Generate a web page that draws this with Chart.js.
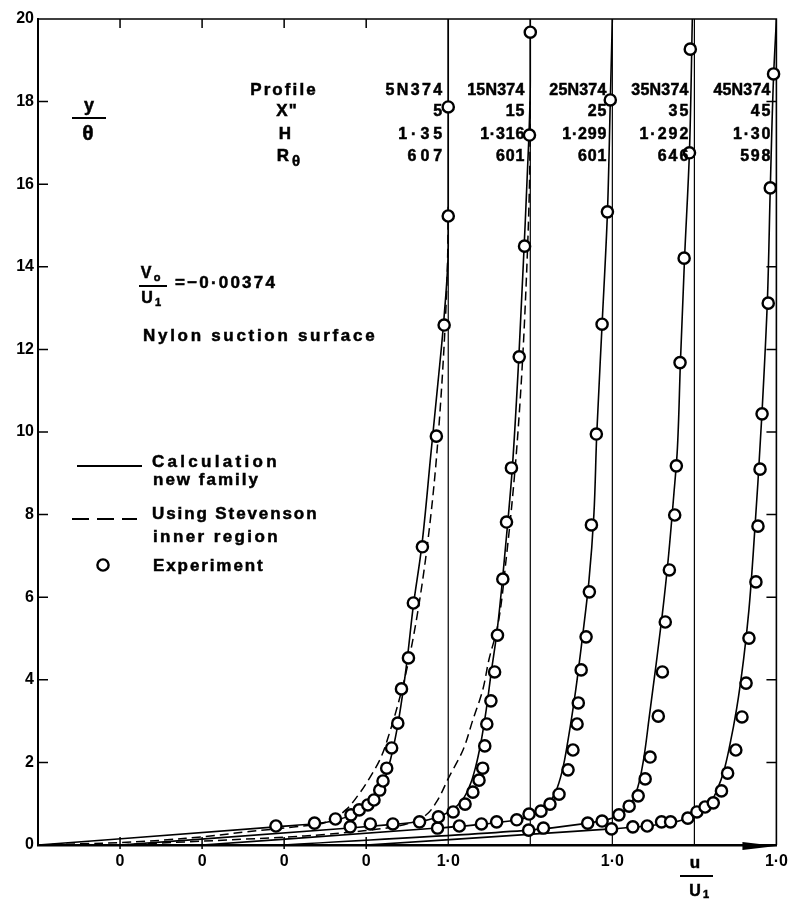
<!DOCTYPE html>
<html>
<head>
<meta charset="utf-8">
<script src="https://cdn.jsdelivr.net/npm/chart.js@4"></script>
<style>
  html, body { margin: 0; padding: 0; background: #fff; }
  canvas { display: block; }
</style>
</head>
<body>
<canvas id="profiles" width="795" height="899"></canvas>
<script>
// each profile is drawn from its own origin, staggered along u/U1
var profileOffsets = [0, 0.2, 0.4, 0.6, 0.8];
var profileNames = ["5N374", "15N374", "25N374", "35N374", "45N374"];
var xInches = ["5", "15", "25", "35", "45"];
var shapeH = ["1·35", "1·316", "1·299", "1·292", "1·30"];
var reTheta = ["607", "601", "601", "646", "598"];

var xTickValues = [0.2, 0.4, 0.6, 0.8, 1.0, 1.4, 1.8];
var xTickLabels = ["0", "0", "0", "0", "1·0", "1·0", "1·0"];
var yTickValues = [0, 2, 4, 6, 8, 10, 12, 14, 16, 18, 20];

// Experiment (circles), u/U1 and y/theta
var exp5U = [0.580,0.674,0.725,0.763,0.783,0.804,0.819,0.833,0.841,0.850,0.862,0.877,0.886,0.903,0.915,0.937,0.971,0.990,1.000,1.000];
var exp5Y = [0.46,0.53,0.63,0.73,0.85,0.97,1.09,1.33,1.55,1.86,2.35,2.95,3.78,4.53,5.86,7.22,9.90,12.59,15.23,17.87];
var exp15U = [0.561,0.610,0.665,0.730,0.776,0.812,0.841,0.860,0.875,0.884,0.889,0.894,0.904,0.913,0.920,0.933,0.942,0.954,0.973,0.986,0.998,1.000];
var exp15Y = [0.44,0.51,0.51,0.56,0.68,0.80,0.99,1.28,1.57,1.86,2.40,2.93,3.49,4.19,5.08,6.44,7.82,9.13,11.82,14.50,17.19,19.68];
var exp25U = [0.574,0.627,0.681,0.718,0.767,0.797,0.826,0.848,0.870,0.892,0.904,0.914,0.917,0.924,0.936,0.944,0.949,0.961,0.975,0.988,0.995];
var exp25Y = [0.41,0.46,0.51,0.56,0.61,0.75,0.82,0.99,1.23,1.82,2.30,2.93,3.44,4.24,5.04,6.13,7.75,9.95,12.61,15.33,18.04];
var exp35U = [0.596,0.632,0.740,0.775,0.816,0.841,0.863,0.880,0.892,0.912,0.922,0.929,0.939,0.952,0.956,0.965,0.975,0.988,0.990];
var exp35Y = [0.36,0.41,0.53,0.58,0.73,0.94,1.19,1.60,2.13,3.12,4.19,5.40,6.66,7.99,9.18,11.68,14.21,16.76,19.27];
var exp45U = [0.598,0.650,0.685,0.720,0.742,0.784,0.806,0.826,0.846,0.866,0.881,0.901,0.916,0.926,0.933,0.950,0.955,0.960,0.965,0.980,0.985,0.993];
var exp45Y = [0.39,0.44,0.46,0.56,0.56,0.65,0.80,0.92,1.02,1.31,1.74,2.30,3.10,3.92,5.01,6.37,7.72,9.10,10.44,13.12,15.91,18.67];

// Calculation, new family (solid)
var calc5U = [0,0.58,0.68,0.73,0.77,0.80,0.825,0.845,0.86,0.875,0.888,0.90,0.915,0.935,0.958,0.975,0.99,1.0,1.0];
var calc5Y = [0,0.44,0.52,0.61,0.75,0.92,1.2,1.6,2.1,2.8,3.6,4.5,5.8,7.2,9.5,11.2,12.8,14.5,20];
var calc15U = [0,0.56,0.665,0.73,0.775,0.81,0.835,0.853,0.867,0.88,0.893,0.905,0.918,0.932,0.945,0.956,0.972,0.985,0.996,1.0,1.0];
var calc15Y = [0,0.41,0.5,0.57,0.68,0.85,1.1,1.45,1.9,2.5,3.3,4.2,5.1,6.4,7.8,9.1,11.8,14.5,17,18.5,20];
var calc25U = [0,0.574,0.68,0.77,0.81,0.84,0.862,0.878,0.893,0.91,0.928,0.943,0.955,0.962,0.975,0.988,0.995,1.0];
var calc25Y = [0,0.41,0.5,0.61,0.74,0.95,1.3,1.8,2.6,3.7,5.1,6.4,8.0,9.95,12.6,15.3,18,20];
var calc35U = [0,0.596,0.74,0.79,0.82,0.845,0.862,0.875,0.89,0.907,0.922,0.936,0.95,0.958,0.966,0.976,0.988,0.995];
var calc35Y = [0,0.36,0.53,0.62,0.75,1.0,1.4,2.0,3.1,4.4,5.6,6.9,8.5,9.5,11.7,14.2,16.8,20];
var calc45U = [0,0.598,0.685,0.742,0.784,0.815,0.84,0.858,0.872,0.886,0.903,0.92,0.933,0.943,0.955,0.965,0.978,0.985,0.993,1.0];
var calc45Y = [0,0.39,0.46,0.54,0.65,0.83,1.05,1.4,1.8,2.4,3.3,4.5,5.7,7.0,8.8,10.5,13.2,15.9,18.6,20];

// Using Stevenson inner region (dashed), first two profiles only
var stev5U = [0,0.2,0.39,0.51,0.6,0.68,0.72,0.75,0.78,0.81,0.835,0.858,0.88,0.9,0.918,0.936,0.952,0.968,0.982,0.992,0.998,1.0];
var stev5Y = [0,0.06,0.19,0.32,0.41,0.5,0.64,0.85,1.2,1.65,2.1,2.75,3.5,4.3,5.2,6.3,7.5,9,10.8,12.5,14,15.5];
var stev15U = [0,0.45,0.6,0.667,0.716,0.745,0.771,0.802,0.836,0.86,0.884,0.899,0.92,0.942,0.962,0.978,0.99,0.998,1.0];
var stev15Y = [0,0.22,0.35,0.44,0.56,0.72,1.04,1.65,2.3,3.03,3.75,4.48,5.28,7,9,11.2,13.6,16,18];

var expU = [exp5U, exp15U, exp25U, exp35U, exp45U];
var expY = [exp5Y, exp15Y, exp25Y, exp35Y, exp45Y];
var calcU = [calc5U, calc15U, calc25U, calc35U, calc45U];
var calcY = [calc5Y, calc15Y, calc25Y, calc35Y, calc45Y];

var SANS = '"Liberation Sans", Arial, sans-serif';

function toPoints(us, ys, offset) {
  return us.map(function (u, k) { return { x: u + offset, y: ys[k] }; });
}

var datasets = [];
profileOffsets.forEach(function (off, i) {
  datasets.push({
    data: toPoints(expU[i], expY[i], off),
    showLine: false,
    pointRadius: 5.6,
    pointBorderWidth: 2.4,
    pointBackgroundColor: '#fff',
    pointBorderColor: '#000',
    clip: false,
    order: 0
  });
  datasets.push({
    data: toPoints(calcU[i], calcY[i], off),
    borderColor: '#000',
    borderWidth: 1.6,
    pointRadius: 0,
    fill: false,
    cubicInterpolationMode: 'monotone',
    order: 1
  });
  // the u/U1 = 1 line of this profile
  datasets.push({
    data: [{ x: off + 1, y: 0 }, { x: off + 1, y: 20 }],
    borderColor: '#000',
    borderWidth: 1.2,
    pointRadius: 0,
    fill: false,
    order: 2
  });
});
[[stev5U, stev5Y, 0], [stev15U, stev15Y, 1]].forEach(function (s) {
  datasets.push({
    data: toPoints(s[0], s[1], profileOffsets[s[2]]),
    borderColor: '#000',
    borderWidth: 1.5,
    borderDash: [9, 5],
    pointRadius: 0,
    fill: false,
    cubicInterpolationMode: 'monotone',
    order: 1
  });
});

function write(ctx, s, x, y, size, align, spacing) {
  ctx.font = 'bold ' + size + 'px ' + SANS;
  ctx.textAlign = align || 'left';
  ctx.textBaseline = 'alphabetic';
  ctx.letterSpacing = (spacing || 0) + 'px';
  if (align === 'right') x += spacing || 0;
  ctx.fillText(s, x, y);
  // the lettering on the original is heavier than the bold face
  ctx.lineWidth = 0.5;
  ctx.strokeText(s, x, y);
  ctx.letterSpacing = '0px';
}

// frame, inward ticks and arrow
var framePlugin = {
  id: 'frame',
  beforeDatasetsDraw: function (chart) {
    var ctx = chart.ctx, xs = chart.scales.x, ys = chart.scales.y;
    var L = xs.left, R = xs.right, T = ys.top, B = ys.bottom;
    ctx.save();
    ctx.strokeStyle = '#000';
    ctx.lineWidth = 1.5;
    ctx.beginPath();
    ctx.moveTo(L, T); ctx.lineTo(R, T); ctx.lineTo(R, B);
    ctx.stroke();
    ctx.beginPath();
    yTickValues.forEach(function (v) {
      if (v === 0 || v === 20) return;
      var py = ys.getPixelForValue(v);
      ctx.moveTo(L, py); ctx.lineTo(L + 10, py);
      ctx.moveTo(R, py); ctx.lineTo(R - 10, py);
    });
    profileOffsets.slice(1).forEach(function (o) {
      var px = xs.getPixelForValue(o);
      ctx.moveTo(px, T); ctx.lineTo(px, T + 9);
      ctx.moveTo(px, B - 8); ctx.lineTo(px, B + 4);
    });
    ctx.stroke();
    ctx.fillStyle = '#000';
    ctx.beginPath();
    ctx.moveTo(R - 34, B - 3);
    ctx.lineTo(R, B + 1);
    ctx.lineTo(R - 34, B + 5);
    ctx.closePath();
    ctx.fill();
    ctx.restore();
  }
};

// texts: axis titles, profile table, notes and key
var notesPlugin = {
  id: 'notes',
  afterDatasetsDraw: function (chart) {
    var ctx = chart.ctx, xs = chart.scales.x;
    ctx.save();
    ctx.fillStyle = '#000';
    ctx.strokeStyle = '#000';

    // y / theta
    write(ctx, 'y', 89, 111, 18, 'center');
    ctx.lineWidth = 2;
    ctx.beginPath(); ctx.moveTo(72, 118); ctx.lineTo(106, 118); ctx.stroke();
    write(ctx, 'θ', 88, 140, 21, 'center');

    // u / U1
    write(ctx, 'u', 695, 868, 17, 'center');
    ctx.lineWidth = 2;
    ctx.beginPath(); ctx.moveTo(680, 876); ctx.lineTo(713, 876); ctx.stroke();
    write(ctx, 'U', 695, 896, 16, 'center');
    write(ctx, '1', 706, 898, 11, 'center');

    // profile table
    var rows = [95, 116, 139, 161];
    write(ctx, 'Profile', 284, rows[0], 17, 'center', 2.1);
    write(ctx, 'X"', 287, rows[1], 17, 'center', 1);
    write(ctx, 'H', 285, rows[2], 17, 'center');
    write(ctx, 'R', 283, rows[3], 17, 'center');
    write(ctx, 'θ', 296, rows[3] + 5, 15, 'center');
    var colSpacing = [4, 0.8, 0.8, 2, 1.8];
    profileOffsets.forEach(function (o, i) {
      var rx = xs.getPixelForValue(o + 1) - 6;
      var sp = colSpacing[i];
      write(ctx, profileNames[i], rx, rows[0], 16, 'right', i === 0 ? 2.4 : 0.2);
      write(ctx, xInches[i], rx, rows[1], 16, 'right', sp);
      write(ctx, shapeH[i], rx, rows[2], 16, 'right', sp);
      write(ctx, reTheta[i], rx, rows[3], 16, 'right', sp);
    });

    // V0 / U1 = -0.00374
    write(ctx, 'V', 146, 278, 16, 'center');
    write(ctx, 'o', 157, 281, 11, 'center');
    ctx.lineWidth = 2;
    ctx.beginPath(); ctx.moveTo(139, 286); ctx.lineTo(167, 286); ctx.stroke();
    write(ctx, 'U', 147, 303, 16, 'center');
    write(ctx, '1', 158, 306, 11, 'center');
    write(ctx, '=−0·00374', 175, 288, 17, 'left', 2.2);
    write(ctx, 'Nylon suction surface', 143, 341, 17, 'left', 2.7);

    // key
    ctx.lineWidth = 2;
    ctx.beginPath(); ctx.moveTo(77, 466); ctx.lineTo(142, 466); ctx.stroke();
    write(ctx, 'Calculation', 152, 467, 17, 'left', 3.3);
    write(ctx, 'new family', 153, 485, 17, 'left', 2);
    ctx.lineWidth = 2;
    ctx.setLineDash([17, 8]);
    ctx.beginPath(); ctx.moveTo(72, 519); ctx.lineTo(137, 519); ctx.stroke();
    ctx.setLineDash([]);
    write(ctx, 'Using Stevenson', 152, 519, 17, 'left', 1.9);
    write(ctx, 'inner region', 153, 542, 17, 'left', 2.4);
    ctx.lineWidth = 2.4;
    ctx.beginPath(); ctx.arc(103, 565, 5.6, 0, Math.PI * 2); ctx.stroke();
    write(ctx, 'Experiment', 153, 571, 17, 'left', 1.9);
    ctx.restore();
  }
};

new Chart(document.getElementById('profiles'), {
  type: 'line',
  data: { datasets: datasets },
  options: {
    responsive: false,
    animation: false,
    events: [],
    indexAxis: 'y',
    layout: { padding: { top: 19, right: 16, left: 0, bottom: 0 } },
    plugins: { legend: { display: false }, tooltip: { enabled: false } },
    scales: {
      x: {
        type: 'linear',
        min: 0,
        max: 1.8,
        afterBuildTicks: function (s) { s.ticks = xTickValues.map(function (v) { return { value: v }; }); },
        afterFit: function (s) { s.height = 54; },
        ticks: {
          autoSkip: false,
          maxRotation: 0,
          padding: 7,
          color: '#000',
          font: { family: SANS, size: 16, weight: 'bold' },
          callback: function (v) { return xTickLabels[xTickValues.indexOf(v)]; }
        },
        grid: { display: false, drawTicks: false },
        border: { display: true, color: '#000', width: 2.5 }
      },
      y: {
        type: 'linear',
        min: 0,
        max: 20,
        afterBuildTicks: function (s) { s.ticks = yTickValues.map(function (v) { return { value: v }; }); },
        afterFit: function (s) { s.width = 38; },
        ticks: {
          autoSkip: false,
          padding: 4,
          color: '#000',
          font: { family: SANS, size: 16, weight: 'bold' },
          callback: function (v) { return String(v); }
        },
        grid: { display: false, drawTicks: false },
        border: { display: true, color: '#000', width: 2 }
      }
    }
  },
  plugins: [framePlugin, notesPlugin]
});
</script>
</body>
</html>
